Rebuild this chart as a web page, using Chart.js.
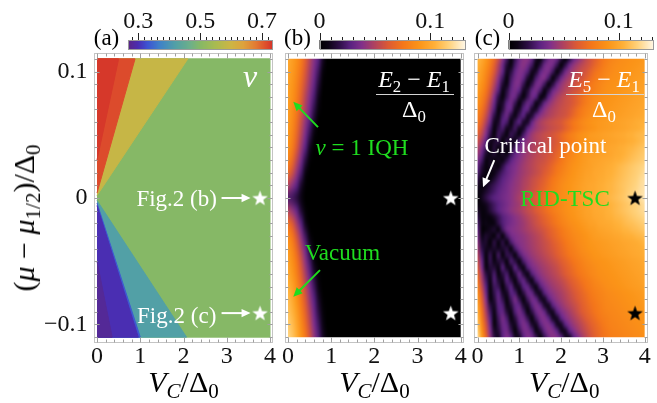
<!DOCTYPE html>
<html>
<head>
<meta charset="utf-8">
<script src="https://cdn.jsdelivr.net/npm/chart.js@4.4.1/dist/chart.umd.min.js"></script>
<style>
  html, body { margin: 0; padding: 0; background: #fff; }
  #wrap { position: relative; width: 657px; height: 403px; overflow: hidden;
          font-family: "Liberation Serif", "Times New Roman", serif; color: #000; }
  #wrap canvas { position: absolute; left: 0; top: 0; }
  .lbl { position: absolute; white-space: nowrap; line-height: 1; transform: translate(-50%, -50%); }
  .lbl sub { font-size: 0.7em; vertical-align: -0.3em; line-height: 0; }
  .w { color: #fff; }
  .g { color: #1fdc1f; }
  .bar { position: absolute; height: 1.5px; background: #d4d4d4; }
  .rot { transform: translate(-50%, -50%) rotate(-90deg); }
</style>
</head>
<body>
<div id="wrap">
  <canvas id="panelA" width="657" height="403"></canvas>
  <canvas id="panelB" width="657" height="403"></canvas>
  <canvas id="panelC" width="657" height="403"></canvas>
  <canvas id="barA" width="657" height="403"></canvas>
  <canvas id="barB" width="657" height="403"></canvas>
  <canvas id="barC" width="657" height="403"></canvas>

  <div class="lbl" style="left:106.5px;top:37px;font-size:23px">(a)</div>
  <div class="lbl" style="left:297.5px;top:37px;font-size:23px">(b)</div>
  <div class="lbl" style="left:487.5px;top:37px;font-size:23px">(c)</div>

  <div class="lbl rot" style="left:24px;top:218px;font-size:30px">(<i>μ</i> − <i>μ</i><sub>1/2</sub>)/Δ<sub>0</sub></div>
  <div class="lbl" style="left:183.5px;top:382px;font-size:30px"><i>V</i><sub><i>C</i></sub>/Δ<sub>0</sub></div>
  <div class="lbl" style="left:374.4px;top:382px;font-size:30px"><i>V</i><sub><i>C</i></sub>/Δ<sub>0</sub></div>
  <div class="lbl" style="left:564.2px;top:382px;font-size:30px"><i>V</i><sub><i>C</i></sub>/Δ<sub>0</sub></div>

  <div class="lbl w" style="left:250px;top:76px;font-size:32px"><i>ν</i></div>
  <div class="lbl w" style="left:176.7px;top:198px;font-size:23px">Fig.2 (b)</div>
  <div class="lbl w" style="left:176.7px;top:314.5px;font-size:23px">Fig.2 (c)</div>

  <div class="lbl w" style="left:414px;top:79px;font-size:24px"><i>E</i><sub>2</sub> − <i>E</i><sub>1</sub></div>
  <div class="bar" style="left:375.5px;top:93.5px;width:78.5px"></div>
  <div class="lbl w" style="left:414px;top:109px;font-size:24px">Δ<sub>0</sub></div>
  <div class="lbl g" style="left:362px;top:147px;font-size:23px"><i>ν</i> = 1 IQH</div>
  <div class="lbl g" style="left:342.5px;top:252px;font-size:23px">Vacuum</div>

  <div class="lbl w" style="left:604px;top:79px;font-size:24px"><i>E</i><sub>5</sub> − <i>E</i><sub>1</sub></div>
  <div class="bar" style="left:565.5px;top:93.5px;width:78.5px"></div>
  <div class="lbl w" style="left:604px;top:109px;font-size:24px">Δ<sub>0</sub></div>
  <div class="lbl w" style="left:545.5px;top:145px;font-size:23px">Critical point</div>
  <div class="lbl g" style="left:565px;top:198px;font-size:23px">RID-TSC</div>
</div>

<script>
// ---------------- axes ----------------
const vcTicks = [0, 1, 2, 3, 4];
const muTicks = [-0.1, 0, 0.1];
const nuBarTicks = [0.3, 0.5, 0.7];
const gapBarTicks = [0, 0.1];
const vcRange = [0, 4];
const muRange = [-0.11, 0.11];

// ---------------- panel (a): filling factor ν ----------------
const nuRegionValues = [0.50, 0.59, 0.715, 0.73, 0.42, 0.335, 0.30, 0.28];
// outlines as [V_C/Δ0, (μ−μ1/2)/Δ0] vertices, bottom layer first
const nuRegionOutlines = [
  [[0, -0.11], [4, -0.11], [4, 0.11], [0, 0.11]],
  [[0, 0.002], [2.1, 0.11], [0, 0.11]],
  [[0, 0.004], [0.88, 0.11], [0, 0.11]],
  [[0, 0.03], [0.5, 0.11], [0, 0.11]],
  [[0, -0.002], [2.07, -0.11], [0, -0.11]],
  [[0, -0.004], [1.0, -0.11], [0, -0.11]],
  [[0, -0.006], [0.955, -0.11], [0, -0.11]],
  [[0, -0.05], [0.35, -0.11], [0, -0.11]]
];

// parameter points studied in Fig. 2 (b) and (c)
const starVc = [3.77, 3.77];
const starMu = [0, -0.091];

// ---------------- panels (b), (c): gap grids ----------------
const gridVc = [0, 0.1, 0.2, 0.3, 0.4, 0.5, 0.6, 0.7, 0.8, 0.9, 1.0, 1.1, 1.2, 1.3, 1.4, 1.5, 1.6, 1.7, 1.8, 1.9,
                2.0, 2.1, 2.2, 2.3, 2.4, 2.5, 2.6, 2.7, 2.8, 2.9, 3.0, 3.1, 3.2, 3.3, 3.4, 3.5, 3.6, 3.7, 3.8, 3.9, 4.0];
const gridMuB = [0.11, 0.10, 0.09, 0.08, 0.07, 0.06, 0.05, 0.04, 0.03, 0.02, 0.01, 0,
                 -0.01, -0.02, -0.03, -0.04, -0.05, -0.06, -0.07, -0.08, -0.09, -0.10, -0.11];
const gridMuC = [0.11, 0.105, 0.10, 0.095, 0.09, 0.085, 0.08, 0.075, 0.07, 0.065, 0.06, 0.055, 0.05, 0.045,
                 0.04, 0.035, 0.03, 0.025, 0.02, 0.015, 0.01, 0.005, 0,
                 -0.005, -0.01, -0.015, -0.02, -0.025, -0.03, -0.035, -0.04, -0.045, -0.05, -0.055, -0.06,
                 -0.065, -0.07, -0.075, -0.08, -0.085, -0.09, -0.095, -0.10, -0.105, -0.11];

// (E2 − E1)/Δ0 in units of 1e-3, rows from μ = 0.11 down to μ = −0.11
const gapE21 = [
  [100,95,88,78,65,52,40,28,12, 0,0,0,0,0,0,0,0,0,0, 0,0,0,0,0,0,0,0,0,0, 0,0,0,0,0,0,0,0,0,0, 0,0],
  [98,93,85,74,61,48,36,22,6, 0,0,0,0,0,0,0,0,0,0, 0,0,0,0,0,0,0,0,0,0, 0,0,0,0,0,0,0,0,0,0, 0,0],
  [96,91,82,70,57,44,31,16,2, 0,0,0,0,0,0,0,0,0,0, 0,0,0,0,0,0,0,0,0,0, 0,0,0,0,0,0,0,0,0,0, 0,0],
  [95,89,79,66,52,39,25,10, 0,0,0,0,0,0,0,0,0,0, 0,0,0,0,0,0,0,0,0,0, 0,0,0,0,0,0,0,0,0,0, 0,0,0],
  [94,87,76,62,48,34,19,5, 0,0,0,0,0,0,0,0,0,0, 0,0,0,0,0,0,0,0,0,0, 0,0,0,0,0,0,0,0,0,0, 0,0,0],
  [93,85,72,57,42,27,12, 0,0,0,0,0,0,0,0,0,0, 0,0,0,0,0,0,0,0,0,0, 0,0,0,0,0,0,0,0,0,0, 0,0,0,0],
  [91,82,68,52,36,20,5, 0,0,0,0,0,0,0,0,0,0, 0,0,0,0,0,0,0,0,0,0, 0,0,0,0,0,0,0,0,0,0, 0,0,0,0],
  [88,78,62,45,28,11, 0,0,0,0,0,0,0,0,0,0, 0,0,0,0,0,0,0,0,0,0, 0,0,0,0,0,0,0,0,0,0, 0,0,0,0,0],
  [82,70,53,36,18,3, 0,0,0,0,0,0,0,0,0,0, 0,0,0,0,0,0,0,0,0,0, 0,0,0,0,0,0,0,0,0,0, 0,0,0,0,0],
  [70,58,42,25,8, 0,0,0,0,0,0,0,0,0,0, 0,0,0,0,0,0,0,0,0,0, 0,0,0,0,0,0,0,0,0,0, 0,0,0,0,0,0],
  [50,40,28,13,2, 0,0,0,0,0,0,0,0,0,0, 0,0,0,0,0,0,0,0,0,0, 0,0,0,0,0,0,0,0,0,0, 0,0,0,0,0,0],
  [25,22,16,8, 0,0,0,0,0,0,0,0,0,0, 0,0,0,0,0,0,0,0,0,0, 0,0,0,0,0,0,0,0,0,0, 0,0,0,0,0,0,0],
  [50,42,30,15,3, 0,0,0,0,0,0,0,0,0,0, 0,0,0,0,0,0,0,0,0,0, 0,0,0,0,0,0,0,0,0,0, 0,0,0,0,0,0],
  [72,62,46,28,10, 0,0,0,0,0,0,0,0,0,0, 0,0,0,0,0,0,0,0,0,0, 0,0,0,0,0,0,0,0,0,0, 0,0,0,0,0,0],
  [85,75,59,41,22,6, 0,0,0,0,0,0,0,0,0,0, 0,0,0,0,0,0,0,0,0,0, 0,0,0,0,0,0,0,0,0,0, 0,0,0,0,0],
  [92,83,68,51,33,15,2, 0,0,0,0,0,0,0,0,0,0, 0,0,0,0,0,0,0,0,0,0, 0,0,0,0,0,0,0,0,0,0, 0,0,0,0],
  [96,88,75,59,41,24,8, 0,0,0,0,0,0,0,0,0,0, 0,0,0,0,0,0,0,0,0,0, 0,0,0,0,0,0,0,0,0,0, 0,0,0,0],
  [100,92,80,65,48,31,15,3, 0,0,0,0,0,0,0,0,0,0, 0,0,0,0,0,0,0,0,0,0, 0,0,0,0,0,0,0,0,0,0, 0,0,0],
  [104,97,86,71,55,38,22,8, 0,0,0,0,0,0,0,0,0,0, 0,0,0,0,0,0,0,0,0,0, 0,0,0,0,0,0,0,0,0,0, 0,0,0],
  [108,101,90,76,61,44,28,13,2, 0,0,0,0,0,0,0,0,0,0, 0,0,0,0,0,0,0,0,0,0, 0,0,0,0,0,0,0,0,0,0, 0,0],
  [111,105,95,81,66,50,33,18,5, 0,0,0,0,0,0,0,0,0,0, 0,0,0,0,0,0,0,0,0,0, 0,0,0,0,0,0,0,0,0,0, 0,0],
  [115,109,99,86,71,55,38,23,9, 0,0,0,0,0,0,0,0,0,0, 0,0,0,0,0,0,0,0,0,0, 0,0,0,0,0,0,0,0,0,0, 0,0],
  [118,112,103,90,76,60,43,27,12,2, 0,0,0,0,0,0,0,0,0,0, 0,0,0,0,0,0,0,0,0,0, 0,0,0,0,0,0,0,0,0,0, 0]
];

// (E5 − E1)/Δ0 in units of 1e-3, rows from μ = 0.11 down to μ = −0.11 (step 0.005)
const gapE51 = [
  [105,100,92,82,70,56,40,22,5,20, 33,40,40,30,12,6,22,34,38,32, 16,4,18,32,40,47,54,59,64,70, 75,79,82,84,86,87,88,89,90,91, 92],
  [103,97,89,78,65,50,33,15,7,24, 36,40,34,22,5,16,32,38,34,20, 4,18,33,42,48,53,57,61,67,72, 77,81,84,86,87,88,89,90,91,92, 93],
  [100,94,85,74,61,46,30,10,16,30, 38,36,26,10,12,28,37,36,22,5, 17,33,42,48,53,57,60,66,72,76, 80,83,85,87,88,89,90,91,92,93, 94],
  [98,92,82,70,56,40,22,5,22,34, 38,30,14,7,24,36,38,24,5,17, 32,42,48,53,57,59,64,70,75,79, 82,85,87,88,89,90,91,92,93,94, 95],
  [96,89,79,66,51,34,14,8,26,37, 36,20,5,18,34,36,22,5,16,32, 42,48,53,57,60,64,70,75,79,82, 85,87,88,89,90,91,92,93,94,95, 96],
  [93,86,75,61,45,27,8,16,30,36, 28,10,14,30,36,24,6,17,32,40, 46,51,55,58,60,65,71,76,80,83, 86,88,89,90,91,92,93,94,95,96, 97],
  [90,82,71,56,38,18,5,20,34,32, 16,5,20,34,28,8,10,28,40,47, 52,56,59,62,67,72,77,81,84,86, 88,89,90,91,92,93,94,95,96,97, 98],
  [87,79,66,50,32,12,12,28,34,20, 4,20,32,26,8,14,30,40,46,51, 54,57,59,62,67,73,78,82,85,87, 89,90,91,92,93,94,95,96,97,98, 99],
  [83,74,61,45,26,6,16,32,30,10, 12,28,30,12,12,28,40,46,50,53, 56,58,61,66,72,77,81,84,87,89, 90,91,92,93,94,95,96,97,98,99, 100],
  [79,70,56,39,18,8,24,32,16,8, 22,28,12,14,30,40,45,49,52,55, 57,59,63,69,74,79,83,86,88,90, 91,92,93,94,95,96,97,98,99,100, 102],
  [75,65,50,32,10,12,28,24,5,20, 28,12,12,30,42,48,52,55,57,59, 61,66,71,76,80,84,87,89,91,92, 93,94,95,96,97,98,99,100,102,103, 104],
  [70,59,43,24,5,18,24,10,12,22, 10,12,28,38,44,48,51,54,56,58, 60,65,70,75,79,83,86,88,90,92, 93,94,95,96,97,98,99,101,102,104, 106],
  [64,53,38,18,6,22,14,6,20,14, 8,24,38,45,50,53,56,58,60,63, 68,73,78,82,86,89,91,93,94,95, 96,97,98,99,100,101,103,104,106,107, 108],
  [57,45,28,10,12,18,4,16,12,10, 26,36,42,46,50,53,55,57,59,62, 67,72,77,81,85,88,90,92,93,94, 95,96,97,98,99,100,102,103,105,107, 109],
  [50,38,22,6,15,8,12,8,10,24, 34,40,45,49,52,54,56,58,60,64, 69,74,79,83,87,90,92,94,95,96, 97,98,99,100,102,103,105,106,108,110, 112],
  [44,31,14,8,14,6,12,6,20,30, 37,42,46,49,52,55,57,59,62,67, 72,77,81,85,88,91,93,94,95,96, 97,98,99,101,102,104,106,108,110,112, 114],
  [37,24,8,10,6,10,8,18,28,35, 40,44,48,51,54,56,58,61,65,70, 75,80,84,87,90,92,94,96,97,98, 99,100,101,103,104,106,108,110,112,114, 116],
  [31,16,6,10,10,6,18,28,34,38, 42,46,49,52,55,58,60,64,69,74, 78,82,86,89,91,93,95,96,98,99, 100,102,103,105,107,109,111,113,115,117, 119],
  [25,12,6,6,8,16,24,30,35,39, 43,46,49,52,55,58,62,66,71,76, 80,84,87,90,92,94,96,97,99,100, 101,103,104,106,108,110,112,114,116,118, 121],
  [18,6,5,6,14,22,28,33,37,41, 44,48,51,55,58,61,65,70,75,79, 83,86,89,91,93,95,97,98,99,101, 102,104,105,107,109,111,113,115,117,120, 122],
  [12,5,9,15,21,26,31,35,39,42, 45,49,52,56,59,63,67,72,77,81, 85,88,90,92,94,96,98,99,100,102, 103,105,106,108,110,112,114,116,118,121, 123],
  [7,8,13,19,24,29,33,36,40,43, 46,50,54,57,61,65,69,74,78,82, 85,88,90,92,94,96,98,99,100,102, 103,105,106,108,110,112,115,117,119,122, 124],
  [2,10,18,24,28,31,34,37,40,44, 48,52,56,60,64,68,72,76,80,83, 86,88,90,92,94,96,98,100,101,102, 104,105,107,109,111,113,116,118,120,122, 125],
  [6,6,10,17,23,28,32,36,40,43, 46,50,54,58,62,66,70,74,78,81, 84,87,89,91,93,95,97,98,100,101, 102,104,105,107,109,111,113,115,117,119, 122],
  [12,5,8,15,22,28,33,37,41,44, 47,51,55,58,62,66,70,74,78,81, 84,87,89,91,93,95,97,98,100,101, 102,104,105,107,109,111,113,115,117,119, 121],
  [18,6,6,6,12,20,27,32,36,40, 43,47,51,55,58,62,66,70,74,78, 82,85,88,90,92,94,96,97,99,100, 101,103,104,106,107,109,111,113,115,117, 119],
  [24,8,8,6,7,18,26,32,36,39, 42,45,49,53,57,60,64,68,72,76, 80,83,86,88,90,92,94,96,97,99, 100,101,102,104,105,107,109,110,112,114, 116],
  [30,5,6,10,13,5,22,34,38,40, 42,45,48,51,54,57,60,64,68,72, 76,80,83,86,88,90,92,94,95,97, 98,99,100,102,103,105,106,108,109,111, 113],
  [35,9,13,10,5,18,5,22,34,38, 40,42,45,48,51,54,58,62,66,70, 74,78,81,84,86,88,90,92,94,95, 96,97,98,99,100,102,103,104,106,107, 109],
  [40,14,13,4,17,6,17,6,24,35, 39,41,44,47,50,53,56,59,63,67, 71,75,79,82,85,87,89,91,92,93, 94,95,96,97,98,99,100,101,102,104, 106],
  [45,19,10,10,13,10,13,17,6,24, 35,40,43,46,49,52,55,58,61,65, 69,73,77,80,83,86,88,90,91,92, 93,94,95,96,97,98,99,100,101,102, 104],
  [51,25,6,19,5,22,5,19,17,6, 24,35,40,44,47,50,53,56,59,63, 67,71,75,78,81,84,86,88,90,91, 92,93,94,95,96,97,98,99,100,101, 103],
  [57,32,5,19,8,15,17,6,24,17, 6,24,35,40,44,47,50,53,56,59, 63,67,71,75,78,81,84,86,88,89, 90,91,92,93,94,95,96,97,98,99, 101],
  [63,37,8,15,15,8,26,11,11,28, 15,8,26,36,40,44,47,50,53,56, 60,64,68,72,76,79,82,84,86,88, 89,90,91,92,93,94,95,96,97,98, 100],
  [70,44,17,11,24,6,17,24,6,17, 31,15,8,26,36,41,45,48,51,54, 58,62,66,70,74,77,80,83,85,87, 88,89,90,91,92,93,94,95,96,97, 99],
  [76,49,23,8,26,13,10,27,17,6, 24,30,15,8,26,36,41,45,48,51, 54,58,62,66,70,74,77,80,83,85, 87,88,89,90,91,92,93,94,95,96, 98],
  [82,55,28,5,22,20,4,20,28,11, 11,28,30,15,8,26,36,41,45,48, 51,55,59,63,67,71,75,78,81,83, 85,87,88,89,90,91,92,93,94,95, 97],
  [88,61,33,5,19,28,11,11,28,24, 6,17,32,30,13,10,27,37,41,45, 48,52,56,60,64,68,72,76,79,81, 83,85,86,87,88,89,90,91,92,93, 95],
  [93,66,39,8,15,30,19,5,22,35, 19,5,22,35,30,13,10,27,37,42, 46,50,54,58,62,66,70,74,77,80, 82,84,85,86,87,88,89,90,91,92, 94],
  [98,71,44,17,11,28,26,8,15,30, 30,13,10,27,37,30,13,10,27,37, 42,47,51,55,59,64,68,72,75,78, 81,83,84,85,86,87,88,89,90,91, 93],
  [102,76,49,23,8,26,30,15,8,26, 35,24,6,17,32,38,30,13,10,27, 37,42,47,52,57,62,66,70,74,77, 80,82,83,84,85,86,87,88,89,90, 92],
  [107,80,54,28,5,22,35,24,6,17, 32,33,19,5,22,35,38,28,11,11, 28,38,43,48,53,58,63,67,71,75, 78,80,82,83,84,85,86,87,88,89, 91],
  [111,85,59,33,5,19,33,30,13,10, 27,37,30,13,10,27,37,38,28,11, 11,28,38,44,49,54,59,64,68,72, 76,79,81,82,83,84,85,86,87,88, 90],
  [116,90,63,38,12,15,30,34,20,4, 20,34,36,26,8,15,30,39,38,28, 11,11,28,38,45,51,56,61,66,70, 74,77,80,81,82,83,84,85,86,87, 89],
  [120,94,69,42,17,11,28,38,28,11, 11,28,38,34,20,4,20,34,40,38, 28,11,11,28,38,46,53,59,64,69, 73,76,79,80,81,82,83,84,85,86, 88]
];

// ---------------- colour scales ----------------
const nuStops = [
  [0.267, '#5b2586'], [0.300, '#4a2eb2'], [0.330, '#3d54d2'], [0.370, '#3f82c8'],
  [0.420, '#52a0a6'], [0.470, '#6eb088'], [0.500, '#86b866'], [0.550, '#a9bb50'],
  [0.600, '#cdb544'], [0.640, '#dea23c'], [0.680, '#e27a32'], [0.710, '#de522c'],
  [0.736, '#d4302a']
];
const gapStops = [
  [0, '#000000'], [0.008, '#0c0414'], [0.018, '#2e0f46'], [0.028, '#5a2280'],
  [0.038, '#80308a'], [0.050, '#b0425e'], [0.062, '#dc5a34'], [0.075, '#f4761a'],
  [0.090, '#fb9418'], [0.104, '#ffb038'], [0.117, '#ffd27c'], [0.131, '#fff6e2']
];

function makeColormap(stops) {
  const s = stops.map(([v, h]) => [v, parseInt(h.substr(1, 2), 16), parseInt(h.substr(3, 2), 16), parseInt(h.substr(5, 2), 16)]);
  return function (v) {
    if (v <= s[0][0]) return s[0].slice(1);
    for (let i = 1; i < s.length; i++) {
      if (v <= s[i][0]) {
        const t = (v - s[i - 1][0]) / (s[i][0] - s[i - 1][0]);
        return [1, 2, 3].map(k => Math.round(s[i - 1][k] + t * (s[i][k] - s[i - 1][k])));
      }
    }
    return s[s.length - 1].slice(1);
  };
}
const cmapNu = makeColormap(nuStops);
const cmapGap = makeColormap(gapStops);
const rgb = c => `rgb(${c[0]},${c[1]},${c[2]})`;

// ---------------- drawing helpers ----------------
const SERIF = '"Liberation Serif", "Times New Roman", serif';
Chart.defaults.font.family = SERIF;
Chart.defaults.color = '#111';

function starImage(color) {
  const c = document.createElement('canvas');
  c.width = 17; c.height = 17;
  const g = c.getContext('2d');
  g.fillStyle = color;
  g.beginPath();
  for (let k = 0; k < 10; k++) {
    const r = k % 2 ? 3.4 : 8.2;
    const a = -Math.PI / 2 + k * Math.PI / 5;
    g.lineTo(8.5 + r * Math.cos(a), 9.2 + r * Math.sin(a));
  }
  g.closePath();
  g.fill();
  return c;
}

// Paints a value grid (one cell per grid node) into the plot through the chart's scales.
function heatmapPlugin(rows, mus, cmap) {
  return {
    id: 'heatmap',
    beforeDatasetsDraw(chart) {
      const { ctx, scales: { x, y } } = chart;
      const nx = gridVc.length, ny = mus.length;
      const off = document.createElement('canvas');
      off.width = nx; off.height = ny;
      const o = off.getContext('2d');
      const img = o.createImageData(nx, ny);
      for (let j = 0; j < ny; j++) {
        for (let i = 0; i < nx; i++) {
          const c = cmap(rows[j][i] / 1000);
          const k = (j * nx + i) * 4;
          img.data[k] = c[0]; img.data[k + 1] = c[1]; img.data[k + 2] = c[2]; img.data[k + 3] = 255;
        }
      }
      o.putImageData(img, 0, 0);
      const hx = (gridVc[1] - gridVc[0]) / 2, hy = (mus[0] - mus[1]) / 2;
      const x0 = x.getPixelForValue(gridVc[0] - hx), x1 = x.getPixelForValue(gridVc[nx - 1] + hx);
      const y0 = y.getPixelForValue(mus[0] + hy), y1 = y.getPixelForValue(mus[ny - 1] - hy);
      const cx0 = x.getPixelForValue(vcRange[0]), cx1 = x.getPixelForValue(vcRange[1]);
      const cy0 = y.getPixelForValue(muRange[1]), cy1 = y.getPixelForValue(muRange[0]);
      ctx.save();
      ctx.beginPath();
      ctx.rect(cx0, cy0, cx1 - cx0, cy1 - cy0);
      ctx.clip();
      ctx.imageSmoothingEnabled = true;
      ctx.imageSmoothingQuality = 'high';
      ctx.drawImage(off, x0, y0, x1 - x0, y1 - y0);
      ctx.restore();
    }
  };
}

function framePlugin() {
  return {
    id: 'frame',
    afterDraw(chart) {
      const { ctx, chartArea: a, scales: { x, y } } = chart;
      ctx.save();
      ctx.strokeStyle = '#c4c4c4';
      ctx.lineWidth = 1;
      const L = Math.round(a.left) + 0.5, R = Math.round(a.right) - 0.5;
      const T = Math.round(a.top) + 0.5, B = Math.round(a.bottom) - 0.5;
      ctx.strokeRect(L, T, R - L, B - T);
      ctx.strokeStyle = '#a0a0a0';
      ctx.beginPath();
      for (let k = 0; k <= 20; k++) {
        const v = k * 0.2;
        const len = k % 5 === 0 ? 5 : 3;
        const px = Math.round(x.getPixelForValue(v)) + 0.5;
        ctx.moveTo(px, B); ctx.lineTo(px, B - len);
        ctx.moveTo(px, T); ctx.lineTo(px, T + len);
      }
      for (let k = -11; k <= 11; k++) {
        const v = k * 0.01;
        const len = k % 10 === 0 ? 5 : 3;
        const py = Math.round(y.getPixelForValue(v)) + 0.5;
        ctx.moveTo(L, py); ctx.lineTo(L + len, py);
        ctx.moveTo(R, py); ctx.lineTo(R - len, py);
      }
      ctx.stroke();
      ctx.restore();
    }
  };
}

function arrowPlugin(list) {
  return {
    id: 'arrows',
    afterDatasetsDraw(chart) {
      const { ctx, scales: { x, y } } = chart;
      for (const a of list) {
        const x0 = x.getPixelForValue(a.from[0]), y0 = y.getPixelForValue(a.from[1]);
        const x1 = x.getPixelForValue(a.to[0]), y1 = y.getPixelForValue(a.to[1]);
        const ang = Math.atan2(y1 - y0, x1 - x0), hl = 9, hw = 4.2;
        const c = Math.cos(ang), s = Math.sin(ang);
        ctx.save();
        ctx.strokeStyle = a.color; ctx.fillStyle = a.color; ctx.lineWidth = 2;
        ctx.beginPath(); ctx.moveTo(x0, y0); ctx.lineTo(x1 - hl * 0.7 * c, y1 - hl * 0.7 * s); ctx.stroke();
        ctx.beginPath();
        ctx.moveTo(x1, y1);
        ctx.lineTo(x1 - hl * c + hw * s, y1 - hl * s - hw * c);
        ctx.lineTo(x1 - hl * c - hw * s, y1 - hl * s + hw * c);
        ctx.closePath(); ctx.fill();
        ctx.restore();
      }
    }
  };
}

function colorbarPlugin(cmap, majors, minors) {
  return {
    id: 'colorbar',
    beforeDatasetsDraw(chart) {
      const { ctx, chartArea: a, scales: { x } } = chart;
      ctx.save();
      ctx.beginPath(); ctx.rect(a.left, a.top, a.width, a.height); ctx.clip();
      for (let px = Math.floor(a.left); px < Math.ceil(a.right); px++) {
        ctx.fillStyle = rgb(cmap(x.getValueForPixel(px + 0.5)));
        ctx.fillRect(px, a.top, 1, a.height);
      }
      ctx.restore();
      ctx.save();
      ctx.strokeStyle = '#9a9a9a'; ctx.lineWidth = 1;
      ctx.strokeRect(Math.round(a.left) + 0.5, Math.round(a.top) + 0.5, Math.round(a.width) - 1, Math.round(a.height) - 1);
      ctx.strokeStyle = '#222';
      ctx.beginPath();
      for (const v of majors) { const px = Math.round(x.getPixelForValue(v)) + 0.5; ctx.moveTo(px, a.top); ctx.lineTo(px, a.top - 7); }
      for (const v of minors) { const px = Math.round(x.getPixelForValue(v)) + 0.5; ctx.moveTo(px, a.top); ctx.lineTo(px, a.top - 3); }
      ctx.stroke();
      ctx.restore();
    }
  };
}

// ---------------- chart builders ----------------
const TICK_FONT = { family: SERIF, size: 24 };
const fmt = v => v === 0 ? '0' : (v < 0 ? '\u2212' : '') + String(Math.abs(v));

function xAxis(min, max) {
  return {
    type: 'linear', position: 'bottom', min, max,
    grid: { display: false, drawTicks: false }, border: { display: false },
    afterBuildTicks: s => { s.ticks = vcTicks.map(v => ({ value: v })); },
    afterFit: s => { s.height = 403 - 342.7; },
    ticks: { font: TICK_FONT, padding: 0, autoSkip: false, maxRotation: 0, callback: v => fmt(v) }
  };
}
function yAxis(show) {
  return {
    type: 'linear', display: show, min: -0.1144, max: 0.1144,
    grid: { display: false, drawTicks: false }, border: { display: false },
    afterBuildTicks: s => { s.ticks = muTicks.map(v => ({ value: v })); },
    afterFit: s => { s.width = show ? 93.54 : 0; },
    ticks: { font: TICK_FONT, padding: 6, autoSkip: false, callback: v => fmt(v) }
  };
}
function baseOptions(padding, scales) {
  return {
    responsive: false, animation: false, devicePixelRatio: 1, events: [],
    layout: { padding },
    plugins: { legend: { display: false }, tooltip: { enabled: false } },
    scales
  };
}
function starDataset(color) {
  return {
    data: starVc.map((v, i) => ({ x: v, y: starMu[i] })),
    pointStyle: starImage(color), pointRadius: 8, showLine: false
  };
}

// panel (a)
const regionSets = nuRegionOutlines.map((pts, i) => {
  const col = rgb(cmapNu(nuRegionValues[i]));
  return {
    data: pts.map(p => ({ x: p[0], y: p[1] })),
    showLine: true, fill: 'shape', backgroundColor: col, borderColor: col, borderWidth: 1,
    pointRadius: 0
  };
}).reverse();

new Chart(document.getElementById('panelA'), {
  type: 'scatter',
  data: { datasets: [starDataset('#ffffff'), ...regionSets] },
  options: baseOptions({ left: 0, right: 657 - 273.46, top: 53.3, bottom: 0 },
    { x: xAxis(-0.08, 4.08), y: yAxis(true) }),
  plugins: [framePlugin(), arrowPlugin([
    { from: [2.88, 0], to: [3.55, 0], color: '#fff' },
    { from: [2.88, -0.091], to: [3.55, -0.091], color: '#fff' }
  ])]
});

// panel (b)
new Chart(document.getElementById('panelB'), {
  type: 'scatter',
  data: { datasets: [starDataset('#ffffff')] },
  options: baseOptions({ left: 284.55, right: 657 - 464.15, top: 53.3, bottom: 0 },
    { x: xAxis(-0.08, 4.08), y: yAxis(false) }),
  plugins: [heatmapPlugin(gapE21, gridMuB, cmapGap), framePlugin(), arrowPlugin([
    { from: [0.695, 0.056], to: [0.123, 0.076], color: '#1fdc1f' },
    { from: [0.741, -0.057], to: [0.123, -0.078], color: '#1fdc1f' }
  ])]
});

// panel (c)
new Chart(document.getElementById('panelC'), {
  type: 'scatter',
  data: { datasets: [starDataset('#000000')] },
  options: baseOptions({ left: 474.24, right: 657 - 654.16, top: 53.3, bottom: 0 },
    { x: xAxis(-0.08, 4.08), y: yAxis(false) }),
  plugins: [heatmapPlugin(gapE51, gridMuC, cmapGap), framePlugin(), arrowPlugin([
    { from: [0.40, 0.030], to: [0.13, 0.0085], color: '#fff' }
  ])]
});

// colour bars
function colorbar(id, left, right, min, max, ticks, minors, cmap) {
  new Chart(document.getElementById(id), {
    type: 'scatter',
    data: { datasets: [] },
    options: baseOptions({ left, right: 657 - right, top: 0, bottom: 403 - 49.5 }, {
      x: {
        type: 'linear', position: 'top', min, max,
        grid: { display: false, drawTicks: false }, border: { display: false },
        afterBuildTicks: s => { s.ticks = ticks.map(v => ({ value: v })); },
        afterFit: s => { s.height = 40; },
        ticks: { font: TICK_FONT, padding: 3.6, autoSkip: false, maxRotation: 0, callback: v => fmt(v) }
      },
      y: { display: false, min: 0, max: 1 }
    }),
    plugins: [colorbarPlugin(cmap, ticks, minors)]
  });
}
const nuMinor = [0.28, 0.32, 0.34, 0.36, 0.38, 0.40, 0.42, 0.44, 0.46, 0.48, 0.52, 0.54, 0.56, 0.58, 0.60, 0.62, 0.64, 0.66, 0.68, 0.72];
const gapMinor = [0.01, 0.02, 0.03, 0.04, 0.05, 0.06, 0.07, 0.08, 0.09, 0.11, 0.12, 0.13];
colorbar('barA', 128, 273, 0.2667, 0.7357, nuBarTicks, nuMinor, cmapNu);
colorbar('barB', 319.5, 465, 0, 0.1315, gapBarTicks, gapMinor, cmapGap);
colorbar('barC', 508.5, 653.5, 0, 0.1315, gapBarTicks, gapMinor, cmapGap);
</script>
</body>
</html>
